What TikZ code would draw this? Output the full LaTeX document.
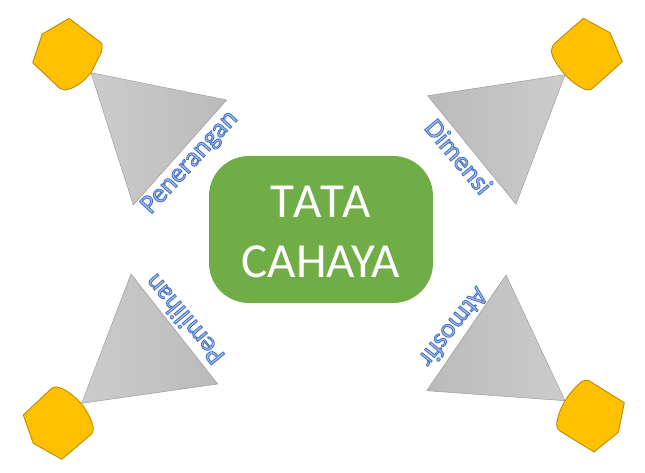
\documentclass[tikz,border=0pt]{standalone}
\usepackage{fontspec}
\setmainfont{Carlito}
\usetikzlibrary{calc,shadings}
\definecolor{hexfill}{HTML}{FFC000}
\definecolor{hexline}{HTML}{BC8C00}
\definecolor{boxgreen}{HTML}{70AD47}
\definecolor{labelpale}{HTML}{A9BEEA}
\newcommand{\outlined}[1]{\special{pdf:code 2 Tr 0.85 w 0.267 0.447 0.769 RG}#1\special{pdf:code 0 Tr}}
\tikzset{
  x=1pt,y=-1pt,
  hexshape/.style={fill=hexfill,draw=hexline,line width=0.9pt,line join=round},
  lightleft/.style={draw=black!38,line width=0.5pt,line join=round,left color=black!20,right color=black!27},
  lightright/.style={draw=black!38,line width=0.5pt,line join=round,left color=black!27,right color=black!20},
  titlebox/.style={fill=boxgreen,rounded corners=40pt,draw=none},
  titletext/.style={text=white,font=\fontsize{49}{60}\selectfont,align=center,inner sep=0pt},
  labeltext/.style={text=labelpale,font=\fontsize{27}{27}\selectfont,inner sep=0pt,anchor=center}
}
\begin{document}
\begin{tikzpicture}
\useasboundingbox (0,0) rectangle (645,473);
\fill[white] (0,0) rectangle (645,473);
% centre
\fill[titlebox] (209,156) rectangle (433,303);
\node[titletext] (title) at (321,232) {{\addfontfeature{LetterSpace=4.8}TATA}\\CAHAYA};
% triangles
\path[lightleft] (91,72.7) -- (226.7,100) -- (133.3,205) -- cycle;
\path[lightright] (565,74.7) -- (427.7,95.7) -- (516,204.3) -- cycle;
\path[lightleft] (81.7,403.3) -- (131,274) -- (217.7,384) -- cycle;
\path[lightright] (565,400.7) -- (506,275) -- (426.7,390.7) -- cycle;
% hexagons
\path[hexshape] (69,18.3) -- (101.7,43.3) .. controls (102.5,47) and (102,50) .. (101,53) -- (91,72.7) .. controls (83,82) and (76,88) .. (65,90) .. controls (63,90) and (62,90) .. (60,88.5) -- (32.7,62.7) -- (42.3,34) -- cycle;
\path[hexshape] (583.3,18.3) -- (610,32.7) -- (622.3,61.7) -- (593,88) .. controls (590,90.5) and (587,90.5) .. (584,89) .. controls (576,85) and (570,80) .. (565,74.7) .. controls (558,66) and (551,57) .. (551.5,50) .. controls (552,47) and (553,45) .. (555,43) -- cycle;
\path[hexshape] (56.7,387) .. controls (65,388) and (74,396) .. (81,403.3) .. controls (87,411) and (92,420) .. (93.3,428.3) .. controls (93.5,431) and (92.5,433) .. (91,434.5) -- (61.7,459.3) -- (33.3,443.3) -- (23.3,415) -- (51.7,388.3) .. controls (53,387.3) and (55,387) .. (56.7,387) -- cycle;
\path[hexshape] (588.3,380.3) -- (624.3,402.7) -- (618.3,432.3) -- (594,452) -- (560,431) .. controls (557,429) and (556.5,426) .. (556.7,423.3) .. controls (557.5,416) and (561,408) .. (565,400.7) .. controls (570,393) and (577,385) .. (582,381.5) .. controls (584,380.5) and (586.5,379.8) .. (588.3,380.3) -- cycle;
% labels
\node[labeltext,rotate=47.5] (pen) at (190,162.8) {\outlined{Penerangan}};
\node[labeltext,rotate=-50] (dim) at (459,156.5) {\outlined{Dimensi}};
\node[labeltext,rotate=130] (pem) at (184,319.8) {\outlined{Pemilihan}};
\node[labeltext,rotate=231] (atm) at (454,328) {\outlined{Atmosfir}};
\end{tikzpicture}
\end{document}
